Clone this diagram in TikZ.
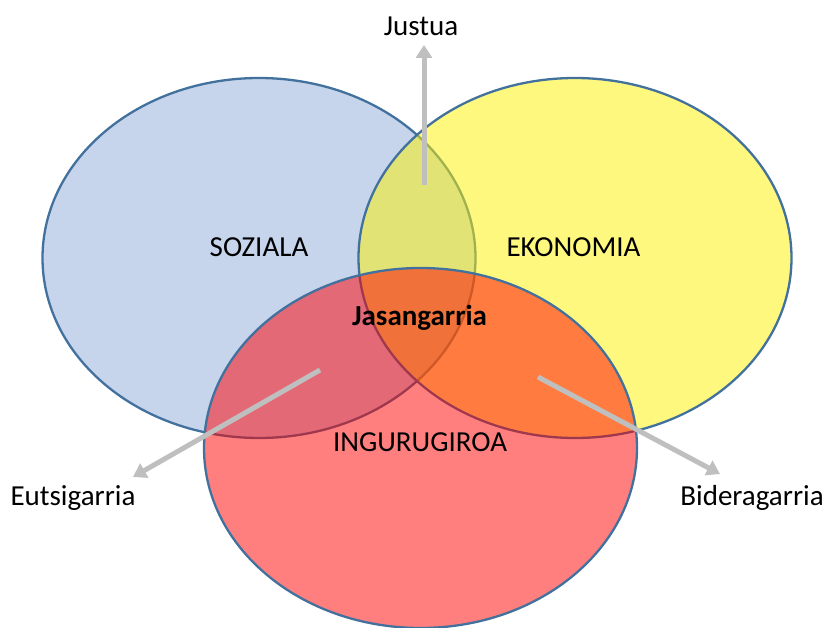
\documentclass[tikz,border=0pt]{standalone}
\usepackage{fontspec}
\setmainfont{Carlito}
\usepackage{xcolor}
\usetikzlibrary{arrows.meta}
\usetikzlibrary{shapes.geometric,positioning}

\definecolor{rand}{HTML}{41719C}
\definecolor{lichtblauw}{HTML}{C6D4EC}
\definecolor{pijlgrijs}{HTML}{BFBFBF}

\begin{document}
\begin{tikzpicture}[x=1pt,y=-1pt]
  \tikzset{cirkel/.style = {shape=ellipse,draw=rand,line width=2.3pt,minimum width=433pt,minimum height=360pt,inner sep=0pt}}
  \tikzset{label/.style = {anchor=base,inner sep=0pt,font=\fontsize{29}{31}\selectfont}}
  \tikzset{%
  tipP/.tip={Triangle[width=16pt,length=13pt]},
}
  \tikzset{pijl/.style = {-tipP,draw=pijlgrijs,line width=5pt}}
    \useasboundingbox (0,0) rectangle (825,628);

	\node[cirkel, fill=lichtblauw] (S) at (259,258) {};
	\node[cirkel, fill=yellow, fill opacity=0.5] (E) at (575,258) {};
	\node[cirkel, fill=red, fill opacity=0.5] (I) at (420.5,448) {};

	\node[label] (soziala) at (259,257) {SOZIALA};
	\node[label] (ekonomia) at (573.5,257) {EKONOMIA};
	\node[label] (ingurugiroa) at (420,451) {INGURUGIROA};
	\node[label, font=\fontsize{29}{31}\selectfont\bfseries] (jasan) at (419.5,326) {Jasangarria};

	\node[label] (justua) at (421,36) {Justua};
	\node[label] (eutsi) at (73,505) {Eutsigarria};
	\node[label] (bidera) at (752,505) {Bideragarria};

	\coordinate (J1) at (424,185);
	\coordinate (J2) at (424,45);
	\coordinate (E1) at (320,370);
	\coordinate (E2) at (133,477);
	\coordinate (B1) at (538,377);
	\coordinate (B2) at (720,474);

    \foreach \from/\to in {J1/J2, E1/E2, B1/B2}
    \draw[pijl](\from) -- (\to);

\end{tikzpicture}
\end{document}
